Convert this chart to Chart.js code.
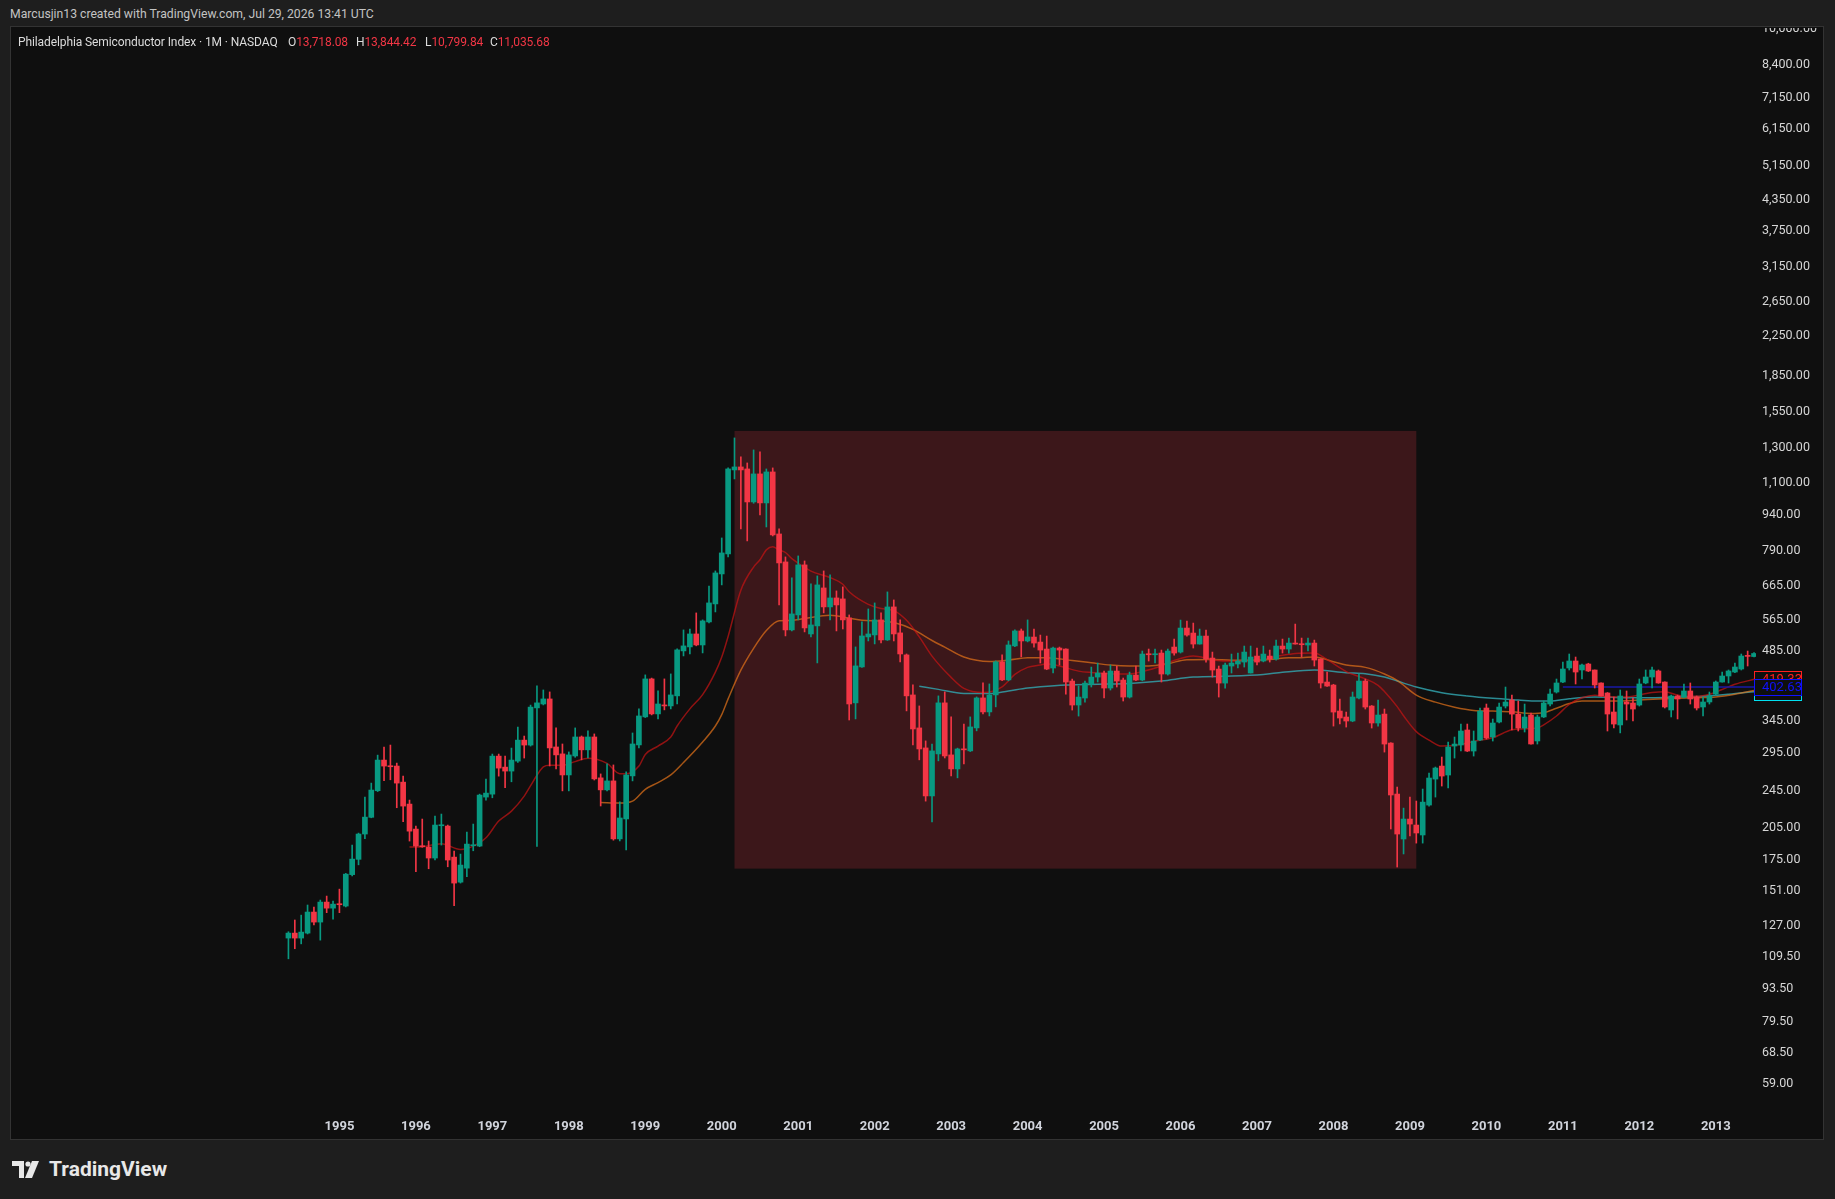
<!DOCTYPE html>
<html><head><meta charset="utf-8">
<script src="https://cdn.jsdelivr.net/npm/chart.js@4.4.1/dist/chart.umd.min.js"></script>
<style>
html,body{margin:0;padding:0;background:#1e1e1e;width:1835px;height:1199px;overflow:hidden;font-family:Roboto,"Liberation Sans",sans-serif;}
#credit{position:absolute;left:10px;top:7px;font-size:12.2px;color:#c3c3c3;white-space:nowrap;}
#pane{position:absolute;left:10px;top:26px;width:1812px;height:1112px;border:1px solid #333;background:#0f0f0f;overflow:hidden;}
#chart{position:absolute;left:0;top:1px;}
.lg{position:absolute;top:8px;font-size:12px;letter-spacing:-0.1px;color:#dcdcdc;white-space:nowrap;}
.lg b{font-weight:normal;color:#f23645;}
#logo{position:absolute;left:12px;top:1156px;height:26px;display:flex;align-items:center;color:#e8e8e8;font-size:21px;font-weight:bold;font-family:Roboto,"Liberation Sans",sans-serif;}
#logo svg{margin-right:7px;}
</style></head>
<body>
<div id="credit">Marcusjin13 created with TradingView.com, Jul 29, 2026 13:41 UTC</div>
<div id="pane">
  <canvas id="chart" width="1812" height="1112"></canvas>
  <div class="lg" style="left:7px">Philadelphia Semiconductor Index · 1M · NASDAQ</div>
  <div class="lg" style="left:277px">O<b>13,718.08</b></div>
  <div class="lg" style="left:345px">H<b>13,844.42</b></div>
  <div class="lg" style="left:414px">L<b>10,799.84</b></div>
  <div class="lg" style="left:479px">C<b>11,035.68</b></div>
</div>
<div id="logo"><svg width="30" height="17" viewBox="0 0 30 17"><path d="M0 0H12V17H7V5H0Z" fill="#e8e8e8"/><circle cx="16" cy="3" r="2.6" fill="#e8e8e8"/><path d="M13 17L20 0H27L20 17Z" fill="#e8e8e8"/></svg>TradingView</div>
<script>
// ---- data (monthly candles, first candle = startMonth) ----
const startMonth = '1994-05';
const opens = [118.6,121.5,118.6,121.5,134.6,128.2,141.3,137.2,139.9,138.6,161.5,174.0,196.8,213.5,243.0,282.1,274.0,274.0,253.4,227.7,
201.6,185.6,184.7,175.1,204.9,204.6,175.9,155.7,166.7,185.9,185.6,235.6,239.0,287.6,272.6,267.4,280.7,310.9,303.5,363.7,
370.7,379.9,300.7,290.7,262.4,287.8,315.7,296.5,315.7,258.7,244.0,254.9,192.2,211.8,261.2,303.7,348.1,418.8,353.2,369.0,
367.2,385.6,480.0,489.4,521.3,494.1,552.7,603.4,698.2,769.7,1158.5,1175.5,1164.1,991.3,1136.2,986.6,1147.2,848.2,740.2,531.6,
571.9,729.6,521.3,542.1,652.2,594.6,621.2,618.3,563.5,372.7,444.0,513.8,518.8,558.2,506.3,594.6,524.0,470.7,387.4,329.9,
299.3,236.9,290.7,372.7,289.3,270.2,297.8,295.0,329.9,381.8,356.6,387.4,455.0,416.8,491.8,529.0,503.8,513.5,501.1,484.4,
441.6,486.7,484.4,414.5,368.8,381.6,408.4,422.6,431.0,400.6,435.2,416.5,383.4,426.7,416.5,472.7,471.1,475.0,428.9,489.1,
477.3,536.5,523.6,496.3,516.0,463.6,439.4,410.4,445.9,450.3,454.6,431.0,468.1,456.9,468.1,461.4,491.5,484.4,498.7,496.3,
493.9,498.7,461.4,412.5,406.5,358.2,347.9,341.2,381.6,414.5,367.0,337.9,352.9,306.5,239.1,192.1,211.7,205.6,195.9,226.6,
257.2,274.0,262.3,302.1,303.6,326.6,294.8,311.0,363.5,315.6,339.5,367.0,377.9,352.9,329.7,351.3,309.6,348.0,370.6,392.9,
412.5,441.7,457.0,437.4,450.3,437.4,410.6,391.1,356.5,334.7,374.3,372.5,368.8,410.6,422.7,435.3,412.5,360.0,385.4,383.5,
394.9,383.5,365.3,374.3,389.1,412.5,424.8,433.1,439.5,468.2,467.0];
const highs = [122.3,129.5,132.6,139.3,137.9,142.7,145.5,142.0,150.5,162.5,186.5,197.7,235.6,252.2,289.0,300.5,303.5,278.0,260.9,232.2,
204.6,211.7,190.2,214.8,216.9,205.6,181.1,178.5,198.7,206.6,239.0,257.1,290.5,290.5,287.6,299.1,331.2,317.1,368.7,404.7,
396.9,393.1,329.9,305.1,293.5,329.9,317.2,325.2,320.4,263.7,276.9,275.5,230.2,266.3,321.9,361.9,427.1,420.5,395.0,418.8,
429.1,484.7,531.6,534.1,577.5,558.2,658.5,708.5,831.9,1169.9,1353.8,1234.2,1198.6,1277.0,1264.7,1164.1,1169.9,869.3,758.5,684.7,
762.2,743.8,665.0,691.5,708.5,694.9,642.8,655.5,571.9,489.4,552.7,588.8,606.3,577.5,639.7,615.2,558.2,472.9,406.8,367.2,
309.7,305.1,385.6,393.1,348.1,299.0,336.3,348.1,383.7,410.7,408.7,457.2,470.7,503.8,531.6,534.1,558.2,533.9,518.5,516.0,
489.1,489.1,485.0,418.5,404.5,414.5,443.7,452.5,435.2,448.1,445.9,420.6,433.0,445.9,479.7,484.4,484.4,482.0,484.4,508.5,
557.8,555.1,549.7,533.9,531.3,477.3,445.9,452.5,472.7,475.0,491.5,491.5,486.7,491.5,482.0,506.1,508.5,511.0,547.0,511.0,
511.0,506.0,462.0,433.0,408.0,379.7,356.4,392.9,428.9,418.5,368.0,377.9,361.7,307.0,247.4,223.3,235.6,231.1,245.0,264.8,
272.7,286.3,308.0,315.6,336.2,336.2,325.0,363.5,370.6,344.5,372.4,402.6,387.2,376.1,370.6,354.7,351.3,376.1,398.7,418.6,
454.7,472.8,465.9,450.3,452.0,437.4,411.0,392.0,383.5,396.8,394.9,381.6,418.6,437.4,443.8,437.4,413.0,387.2,387.2,408.6,
410.6,385.4,383.5,392.9,414.6,433.1,437.4,452.5,472.8,479.7,476.0];
const lows = [107.2,112.6,115.3,121.0,126.5,117.4,134.2,130.1,134.2,138.0,160.5,169.4,192.3,213.0,242.0,255.1,256.3,223.7,208.9,190.2,
163.8,184.5,166.2,173.4,186.5,167.8,138.8,155.0,159.9,181.4,185.0,232.2,234.8,260.9,246.5,253.8,279.0,284.9,302.0,185.2,
369.0,274.1,270.2,242.8,242.8,286.0,282.4,285.0,256.0,225.6,242.8,191.0,190.3,182.2,254.9,299.3,347.0,351.5,344.7,360.2,
361.9,370.7,468.4,472.9,492.0,475.3,550.0,580.3,661.9,758.5,1108.8,869.3,820.0,985.0,930.6,877.6,840.0,600.4,516.3,529.0,
558.2,526.5,513.8,452.7,577.5,558.2,529.0,534.1,342.9,344.7,443.0,503.8,496.6,499.0,505.0,503.8,455.0,358.4,303.7,282.4,
231.0,208.7,281.0,285.0,261.2,258.7,276.9,294.0,325.2,353.2,349.7,365.5,415.0,415.0,490.0,466.2,501.5,489.1,452.5,438.0,
431.0,448.1,389.0,359.9,349.5,374.2,402.6,412.5,381.6,396.7,402.6,376.1,381.6,415.0,415.0,456.9,452.5,412.5,426.7,470.4,
475.0,516.0,486.7,496.0,454.6,422.6,383.4,400.6,431.0,441.6,443.7,431.0,448.1,455.0,454.6,459.1,475.0,475.0,496.0,465.9,
479.7,445.9,400.6,404.0,332.9,336.2,331.3,340.0,380.0,361.7,329.7,332.9,293.3,201.7,167.6,178.6,194.9,188.3,188.3,225.5,
235.6,248.6,246.2,284.9,294.8,294.0,287.7,310.0,312.5,309.5,338.0,363.5,326.6,325.0,323.4,305.0,305.0,347.0,367.0,391.0,
411.0,437.4,408.6,418.6,434.0,400.7,385.0,325.0,329.8,322.0,342.9,341.2,367.0,409.0,400.7,410.0,363.5,348.0,344.6,381.6,
370.6,360.0,349.6,370.6,387.2,412.0,410.6,432.0,437.4,446.0,466.0];
const closes = [121.5,118.6,122.1,134.6,128.2,141.3,137.2,139.9,139.5,161.9,174.2,196.8,213.7,243.8,282.1,274.0,273.1,252.2,225.5,199.6,
185.6,185.0,175.1,205.6,205.6,173.4,155.0,169.2,187.4,186.5,237.9,240.2,287.6,271.3,267.4,282.1,310.9,303.5,365.1,372.7,
379.9,299.3,289.3,262.4,289.3,315.7,296.5,315.7,257.4,244.0,254.9,192.2,212.8,262.4,305.1,349.7,418.8,353.2,370.7,367.2,
387.4,482.4,491.8,521.3,494.1,555.5,606.3,701.6,773.4,1164.1,1175.5,1158.5,991.3,1136.2,986.6,1147.2,844.3,736.6,531.6,574.7,
729.6,536.8,544.7,661.9,594.6,621.2,600.4,558.2,370.7,446.2,516.3,521.3,558.2,506.3,594.6,521.3,472.9,385.6,328.2,297.8,
236.9,295.0,372.7,287.8,270.2,297.8,296.5,331.5,381.8,356.6,387.4,455.0,416.8,494.1,529.0,503.8,513.8,498.7,482.0,439.4,
486.7,482.0,412.5,368.8,383.4,410.4,422.6,431.0,400.6,435.2,414.5,383.4,426.7,416.5,472.7,471.1,472.7,428.9,479.7,475.0,
536.5,518.5,496.3,516.0,461.4,437.3,410.4,448.1,452.5,456.9,477.3,465.9,454.6,472.7,461.4,491.5,484.4,498.7,496.3,494.7,
498.7,459.1,410.5,404.5,356.4,346.2,341.2,383.5,414.5,365.2,337.9,351.3,305.0,238.0,196.8,211.7,206.6,197.8,229.9,258.5,
271.4,261.0,300.6,305.0,325.0,294.8,309.5,358.2,314.1,337.9,365.2,374.2,352.9,329.7,347.9,305.1,348.0,372.5,389.1,410.6,
439.5,457.0,433.1,448.2,435.3,406.6,385.4,353.0,336.2,385.4,370.6,361.7,408.6,422.7,437.4,410.6,365.3,385.4,379.8,394.9,
379.8,363.5,374.3,385.4,412.5,424.8,435.3,443.8,468.2,467.4,474.0];

const yearLabels = ['1995','1996','1997','1998','1999','2000','2001','2002','2003','2004','2005','2006','2007','2008','2009','2010','2011','2012','2013'];
const priceTicks = [10000,8400,7150,6150,5150,4350,3750,3150,2650,2250,1850,1550,1300,1100,940,790,665,565,485,345,295,245,205,175,151,127,109.5,93.5,79.5,68.5,59];

// moving averages: [month, value]
const redMa = [['1995-12',184.7],['1996-02',185],['1996-05',187.7],['1996-08',182.6],['1996-10',185.6],['1996-12',193.2],['1997-02',209.6],['1997-04',220],['1997-06',236.7],['1997-07',249],['1997-08',262],['1997-09',272.8],['1997-10',275],['1997-12',275],['1998-02',280],['1998-04',284.6],['1998-07',277.5],['1998-09',264],['1998-10',264],['1998-12',274],['1999-01',290],['1999-03',302],['1999-05',315.7],['1999-06',333],['1999-08',362],['1999-10',388],['1999-12',433],['2000-01',466],['2000-02',515],['2000-04',645],['2000-06',722],['2000-07',748],['2000-08',785],['2000-09',797],['2000-10',785],['2000-11',775],['2000-12',752],['2001-03',708],['2001-06',686],['2001-08',664],['2001-09',640],['2001-12',602],['2002-02',590],['2002-04',584],['2002-06',557],['2002-08',514],['2002-10',468],['2003-01',422],['2003-03',400],['2003-06',392],['2003-09',403],['2003-11',428],['2004-01',443],['2004-03',448],['2004-04',451],['2004-06',446],['2004-09',435],['2004-11',432],['2005-02',429.6],['2005-05',429],['2005-07',434],['2005-10',446],['2005-12',458],['2006-03',468],['2006-06',460],['2006-08',457],['2006-11',457],['2007-02',461],['2007-04',467],['2007-06',472],['2007-07',474],['2007-10',475],['2007-12',460],['2008-03',434],['2008-06',419],['2008-08',406],['2008-09',394],['2008-11',366],['2008-12',350],['2009-02',324],['2009-04',311],['2009-06',302],['2009-09',304.5],['2009-11',309],['2010-02',314.6],['2010-05',327],['2010-07',328.5],['2010-09',330],['2010-10',335],['2010-12',349.6],['2011-02',370],['2011-04',382],['2011-06',387],['2011-08',384],['2011-11',383.7],['2012-03',392],['2012-05',393.6],['2012-07',387],['2012-10',384.7],['2012-12',388.7],['2013-02',397.8],['2013-04',408],['2013-07',418]];
const orangeMa = [['1998-06',229.4],['1998-09',228.8],['1998-11',231],['1999-01',244.7],['1999-03',252.8],['1999-05',262.4],['1999-07',278.7],['1999-10',308],['1999-12',333],['2000-01',352],['2000-02',380],['2000-04',437],['2000-06',486],['2000-08',530],['2000-10',556],['2000-12',557],['2001-02',562],['2001-06',571],['2001-09',563],['2001-11',557],['2002-02',555],['2002-04',551],['2002-07',533],['2002-10',505],['2002-12',489],['2003-03',466],['2003-07',456],['2003-10',459],['2004-01',464],['2004-04',464.5],['2004-08',458],['2004-11',453],['2005-02',448],['2005-05',446],['2005-08',446],['2005-11',451],['2006-02',460],['2006-06',460.6],['2006-09',458.4],['2006-12',458.4],['2007-03',460.6],['2007-06',464],['2007-08',464.4],['2007-10',466],['2008-01',455.4],['2008-03',448],['2008-06',443],['2008-09',429],['2008-11',415.8],['2009-02',387.2],['2009-05',374],['2009-08',365],['2009-11',359.3],['2010-02',358.2],['2010-05',357],['2010-08',354],['2010-10',355.3],['2010-12',363],['2011-02',371.4],['2011-04',376],['2011-09',376],['2012-01',378],['2012-04',379.8],['2012-07',381],['2012-10',382.3],['2013-01',383.7],['2013-04',388.7],['2013-07',396]];
const tealMa = [['2002-08',404],['2002-11',398],['2003-03',390],['2003-07',390],['2003-10',395],['2004-01',400.5],['2004-03',403],['2004-07',406.5],['2004-12',408],['2005-05',409.8],['2005-10',414.5],['2006-03',422.6],['2006-09',424.6],['2007-02',428],['2007-05',432.5],['2007-10',437.3],['2008-03',431.7],['2008-06',429.5],['2008-09',422.6],['2008-11',414.5],['2009-02',402.6],['2009-06',391.6],['2009-10',385.3],['2010-02',381],['2010-06',378],['2010-09',376],['2010-11',376],['2011-02',380.4],['2011-06',383.7],['2011-11',382.3],['2012-03',382.3],['2012-07',383.7],['2012-11',385],['2013-03',388.7],['2013-07',393.6]];

const hLinePrice = 402.63;
const hLineMonths = ['2011-01','2013-09'];
const boxMonths = ['2000-03','2009-02'];
const boxPrices = [166.3, 1400.8];
const priceLabels = [{value:419.33,text:'419.33',color:'#ff2020'},{value:393.6,text:'',color:'#00e0f0'},{value:402.63,text:'402.63',color:'#1010ff'}];

// ---- helpers ----
function mi(s){const p=s.split('-').map(Number);return (p[0]-1995)*12+(p[1]-1);}
const m0 = mi(startMonth);
const UP='#089981', DN='#f23645';
const candleColors = closes.map((c,i)=> c>=opens[i]?UP:DN);
const bodies = closes.map((c,i)=>({x:m0+i,y:[opens[i],c]}));
const wicks = closes.map((c,i)=>({x:m0+i,y:[lows[i],highs[i]]}));
const maPts = a => a.map(p=>({x:mi(p[0]),y:p[1]}));

const boxPlugin = {
  id:'box',
  beforeDatasetsDraw(chart){
    const {ctx,chartArea:a,scales:{x,y}}=chart;
    ctx.save();ctx.beginPath();ctx.rect(a.left,a.top,a.width,a.height);ctx.clip();
    const x1=x.getPixelForValue(mi(boxMonths[0])),x2=x.getPixelForValue(mi(boxMonths[1]));
    const y1=y.getPixelForValue(boxPrices[1]),y2=y.getPixelForValue(boxPrices[0]);
    ctx.fillStyle='rgba(242,54,69,0.2)';
    ctx.fillRect(x1,y1,x2-x1,y2-y1);
    ctx.restore();
  }
};
const labelPlugin = {
  id:'plabels',
  afterDraw(chart){
    const {ctx,chartArea:a,scales:{y}}=chart;
    ctx.save();
    priceLabels.forEach(l=>{
      const py=Math.round(y.getPixelForValue(l.value));
      const x0=Math.round(a.right)-2,w=48,h=17;
      ctx.fillStyle='#0f0f0f';ctx.fillRect(x0,py-8,w,h);
      ctx.strokeStyle=l.color;ctx.lineWidth=1;ctx.strokeRect(x0+0.5,py-8+0.5,w-1,h-1);
      if(l.text){ctx.fillStyle=l.color;ctx.font='13px Roboto';ctx.textBaseline='middle';ctx.textAlign='left';ctx.fillText(l.text,x0+8,py+0.5);}
    });
    ctx.restore();
  }
};
const noPad = s => { s.paddingTop=0; s.paddingBottom=0; s.paddingLeft=0; s.paddingRight=0; };

new Chart(document.getElementById('chart'),{
  type:'bar',
  data:{datasets:[
    {type:'bar',data:bodies,backgroundColor:candleColors,barThickness:5,minBarLength:1,grouped:false,order:1},
    {type:'bar',data:wicks,backgroundColor:candleColors,barThickness:1,grouped:false,order:2},
    {type:'line',data:maPts(redMa),borderColor:'rgba(200,20,20,0.7)',borderWidth:1.5,pointRadius:0,cubicInterpolationMode:'monotone',order:5},
    {type:'line',data:maPts(orangeMa),borderColor:'rgba(230,115,25,0.7)',borderWidth:1.5,pointRadius:0,cubicInterpolationMode:'monotone',order:6},
    {type:'line',data:maPts(tealMa),borderColor:'rgba(50,170,180,0.8)',borderWidth:1.5,pointRadius:0,cubicInterpolationMode:'monotone',order:7},
    {type:'line',data:hLineMonths.map(m=>({x:mi(m),y:hLinePrice})),borderColor:'#1a1aa8',borderWidth:1.5,pointRadius:0,order:4}
  ]},
  options:{
    responsive:false,animation:false,devicePixelRatio:1,
    layout:{padding:0},
    plugins:{legend:{display:false},tooltip:{enabled:false}},
    scales:{
      x:{type:'linear',min:-51.54,max:222.31,offset:false,
        grid:{display:false,drawTicks:false},border:{display:false},
        afterBuildTicks:s=>{s.ticks=yearLabels.map(yr=>({value:mi(yr+'-01')}));},
        afterFit:s=>{s.height=31;noPad(s);},
        ticks:{autoSkip:false,maxRotation:0,padding:10,color:'#d1d4dc',font:{family:'Roboto',size:13,weight:'bold'},callback:(v,i)=>yearLabels[i]}},
      y:{type:'logarithmic',position:'right',min:51.6,max:9961,
        grid:{display:false,drawTicks:false},border:{display:false},
        afterBuildTicks:s=>{s.ticks=priceTicks.map(v=>({value:v}));},
        afterFit:s=>{s.width=67;noPad(s);},
        ticks:{padding:6,labelOffset:2,color:'#d6d6d6',font:{family:'Roboto',size:12.5},
          callback:v=>Number(v).toLocaleString('en-US',{minimumFractionDigits:2,maximumFractionDigits:2})}}
    }
  },
  plugins:[boxPlugin,labelPlugin]
});
</script>
</body></html>
